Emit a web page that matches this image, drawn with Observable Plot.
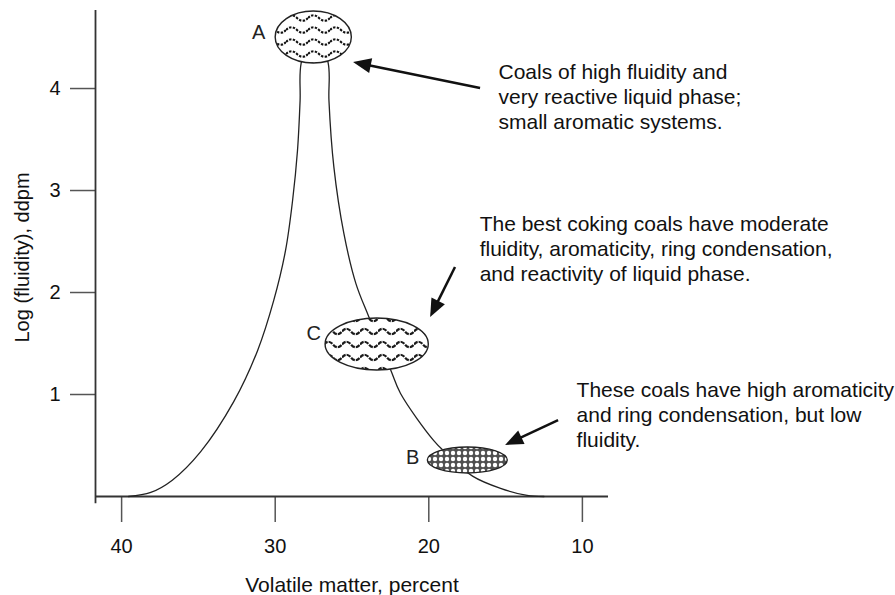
<!DOCTYPE html>
<html>
<head>
<meta charset="utf-8">
<script src="https://cdn.jsdelivr.net/npm/d3@7"></script>
<script src="https://cdn.jsdelivr.net/npm/@observablehq/plot@0.6"></script>
<style>
  html, body { margin: 0; padding: 0; background: #fff; }
  #chart { width: 895px; height: 595px; }
</style>
</head>
<body>
<div id="chart"></div>
<script>
// Fluidity curve: volatile matter (%) vs log fluidity (ddpm)
const volatileMatter = [39.55, 38.1, 36.7, 34.85, 32.7, 31.15, 30.1, 29.33, 28.87, 28.55, 28.38, 28.31, 27.45,
                        26.55, 26.5, 26.18, 25.53, 24.75, 23.9, 22.48, 21.84, 19.69, 18.91, 17.15, 15.33, 13.6, 12.5];
const logFluidity    = [0, 0.04, 0.16, 0.44, 0.93, 1.43, 1.92, 2.41, 2.9, 3.39, 3.88, 4.25, 4.6,
                        4.25, 3.88, 3.23, 2.58, 2.09, 1.76, 1.24, 1.01, 0.55, 0.43, 0.2, 0.08, 0.01, 0];

// Coal groups drawn as hatched ellipses
const groupNames = ["A", "C", "B"];
const groupVM = [27.49, 23.36, 17.46];
const groupLogF = [4.5, 1.49, 0.353];
const groupHalfWidthVM = [2.48, 3.36, 2.6];
const groupHalfHeightLogF = [0.255, 0.255, 0.127];
const groupPattern = ["wave-dotted", "wave-bold", "lattice"];
const groupLabelVM = [31.08, 27.5, 21.05];
const groupLabelLogF = [4.55, 1.6, 0.38];

// Annotations and their arrows
const notes = [
  "Coals of high fluidity and\nvery reactive liquid phase;\nsmall aromatic systems.",
  "The best coking coals have moderate\nfluidity, aromaticity, ring condensation,\nand reactivity of liquid phase.",
  "These coals have high aromaticity\nand ring condensation, but low\nfluidity."
];
const noteVM = [15.46, 16.69, 10.38];
const noteLogF = [3.93, 2.44, 0.81];
const arrowFromVM = [16.63, 18.26, 11.55];
const arrowFromLogF = [4.0, 2.245, 0.745];
const arrowToVM = [24.9, 19.88, 15.0];
const arrowToLogF = [4.255, 1.755, 0.5];

// Axes
const xTicks = [40, 30, 20, 10];
const yTicks = [1, 2, 3, 4];
const xLabel = "Volatile matter, percent";
const yLabel = "Log (fluidity), ddpm";
const xDomain = [41.7, 8.3];
const yDomain = [0, 4.765];

const curve = volatileMatter.map((vm, i) => ({vm, lf: logFluidity[i]}));

// Ellipses with hatch fills
function groupEllipses(index, scales) {
  const {x, y} = scales;
  const g = d3.create("svg:g");
  const defs = g.append("defs");

  const p1 = defs.append("pattern").attr("id", "wave-dotted")
    .attr("patternUnits", "userSpaceOnUse").attr("width", 22).attr("height", 12);
  p1.append("path").attr("d", "M0,6 Q5.5,0.5 11,6 T22,6")
    .attr("fill", "none").attr("stroke", "#111").attr("stroke-width", 2.1)
    .attr("stroke-dasharray", "2.4,1.4");

  const p2 = defs.append("pattern").attr("id", "wave-bold")
    .attr("patternUnits", "userSpaceOnUse").attr("width", 18).attr("height", 13);
  p2.append("path").attr("d", "M0,6.5 Q4.5,1 9,6.5 T18,6.5")
    .attr("fill", "none").attr("stroke", "#1a1a1a").attr("stroke-width", 2.2)
    .attr("stroke-dasharray", "4.5,1");

  const p3 = defs.append("pattern").attr("id", "lattice")
    .attr("patternUnits", "userSpaceOnUse").attr("width", 6).attr("height", 6);
  p3.append("rect").attr("width", 6).attr("height", 6).attr("fill", "#505050");
  p3.append("circle").attr("cx", 3).attr("cy", 3).attr("r", 2.2).attr("fill", "#fff");

  groupNames.forEach((name, i) => {
    const cx = x(groupVM[i]), cy = y(groupLogF[i]);
    const rx = Math.abs(x(groupVM[i] + groupHalfWidthVM[i]) - cx);
    const ry = Math.abs(y(groupLogF[i] + groupHalfHeightLogF[i]) - cy);
    g.append("ellipse").attr("cx", cx).attr("cy", cy).attr("rx", rx).attr("ry", ry)
      .attr("fill", "#fff");
    g.append("ellipse").attr("cx", cx).attr("cy", cy).attr("rx", rx).attr("ry", ry)
      .attr("fill", `url(#${groupPattern[i]})`).attr("stroke", "#222").attr("stroke-width", 1.4);
  });
  return g.node();
}

// Annotation arrows with filled heads
function noteArrows(index, scales) {
  const {x, y} = scales;
  const g = d3.create("svg:g");
  arrowFromVM.forEach((_, i) => {
    const x1 = x(arrowFromVM[i]), y1 = y(arrowFromLogF[i]);
    const x2 = x(arrowToVM[i]), y2 = y(arrowToLogF[i]);
    const a = Math.atan2(y2 - y1, x2 - x1);
    const L = 18, W = 7.5;
    const bx = x2 - L * Math.cos(a), by = y2 - L * Math.sin(a);
    g.append("line").attr("x1", x1).attr("y1", y1).attr("x2", bx + 2 * Math.cos(a)).attr("y2", by + 2 * Math.sin(a))
      .attr("stroke", "#111").attr("stroke-width", 2.5);
    g.append("path")
      .attr("d", `M${x2},${y2}L${bx - W * Math.sin(a)},${by + W * Math.cos(a)}L${bx + W * Math.sin(a)},${by - W * Math.cos(a)}Z`)
      .attr("fill", "#111");
  });
  return g.node();
}

const chart = Plot.plot({
  width: 895,
  height: 595,
  marginLeft: 95,
  marginRight: 287,
  marginTop: 10,
  marginBottom: 99,
  x: {domain: xDomain},
  y: {domain: yDomain},
  style: {fontFamily: "'Liberation Sans', Arial, sans-serif", fontSize: "20px", color: "#111", background: "#fff"},
  marks: [
    Plot.axisX({ticks: xTicks, tickFormat: "d", tickSize: 26, tickPadding: 16, label: null, fontSize: 20, stroke: "#555", strokeWidth: 1.5}),
    Plot.axisY({ticks: yTicks, tickFormat: "d", tickSize: 25, tickPadding: 10, label: null, fontSize: 20, stroke: "#555", strokeWidth: 1.5}),
    Plot.ruleY([0], {stroke: "#333", strokeWidth: 1.8}),
    Plot.ruleX([xDomain[0]], {y1: -0.07, y2: yDomain[1], stroke: "#333", strokeWidth: 1.8}),
    Plot.line(curve, {x: "vm", y: "lf", curve: "catmull-rom", stroke: "#222", strokeWidth: 1.3}),
    groupEllipses,
    Plot.text(groupNames, {x: (d, i) => groupLabelVM[i], y: (d, i) => groupLabelLogF[i], text: d => d, fontSize: 20, fill: "#222"}),
    noteArrows,
    Plot.text(notes, {x: (d, i) => noteVM[i], y: (d, i) => noteLogF[i], text: d => d,
      textAnchor: "start", lineAnchor: "middle", lineHeight: 1.2, fontSize: 21, fill: "#111"}),
    Plot.text([xLabel], {frameAnchor: "bottom", dy: 89, textAnchor: "middle", lineAnchor: "middle", fontSize: 21, fill: "#111"}),
    Plot.text([yLabel], {frameAnchor: "left", dx: -73, dy: 4, rotate: -90, textAnchor: "middle", lineAnchor: "middle", fontSize: 20, fill: "#111"})
  ]
});

document.getElementById("chart").appendChild(chart);
</script>
</body>
</html>
